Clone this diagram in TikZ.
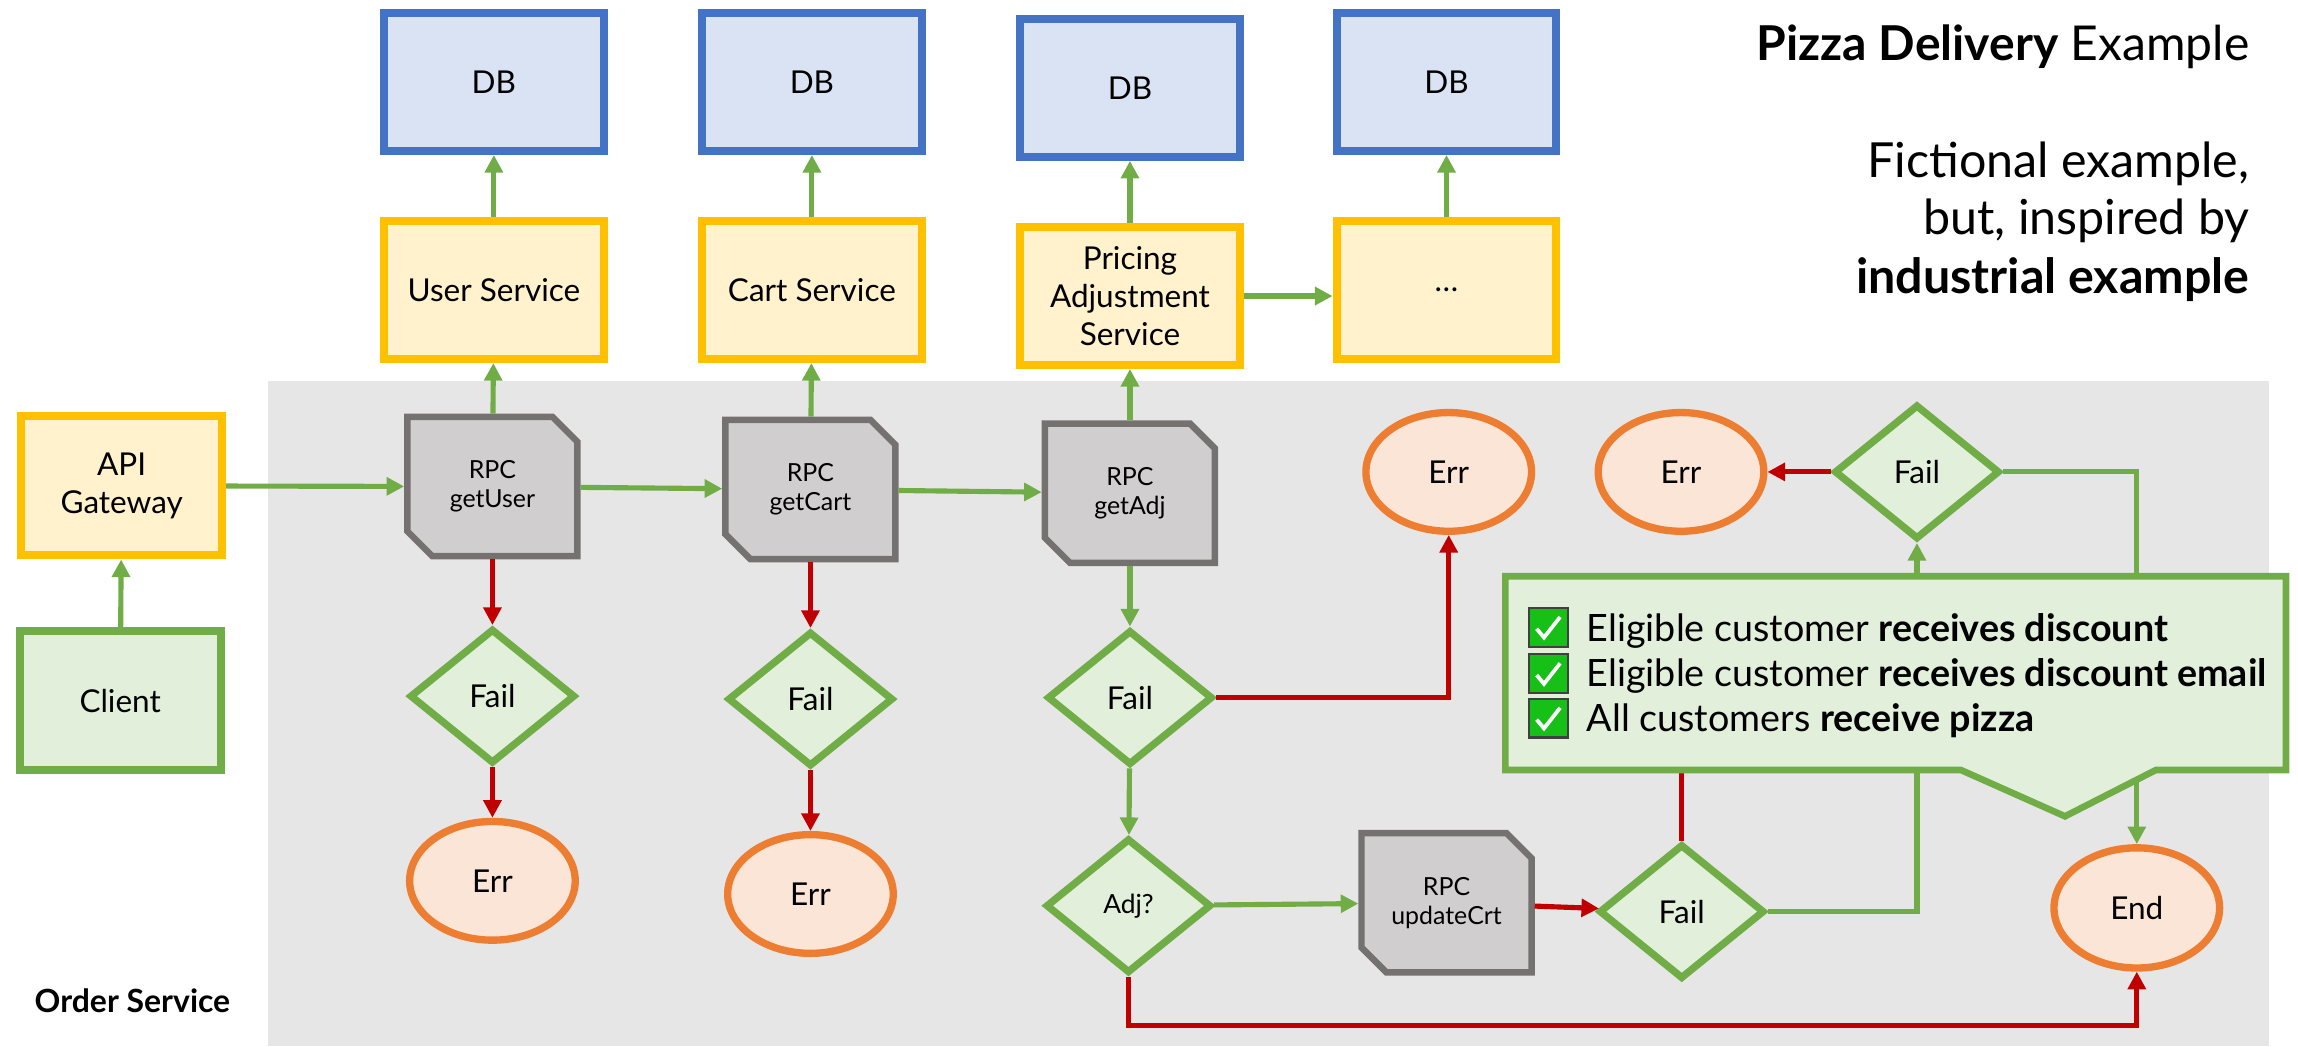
\documentclass[tikz,border=0pt]{standalone}
\usepackage{fontspec}
\setmainfont{Lato}
\usetikzlibrary{arrows.meta,shapes.geometric,calc}
\definecolor{dbline}{HTML}{4472C4}
\definecolor{dbfill}{HTML}{DAE3F3}
\definecolor{svcline}{HTML}{FFC000}
\definecolor{svcfill}{HTML}{FFF2CC}
\definecolor{grnline}{HTML}{70AD47}
\definecolor{grnfill}{HTML}{E2EFDA}
\definecolor{orgline}{HTML}{ED7D31}
\definecolor{orgfill}{HTML}{FBE5D6}
\definecolor{rpcline}{HTML}{767171}
\definecolor{rpcfill}{HTML}{D0CECE}
\definecolor{errred}{HTML}{C00000}
\definecolor{bggray}{HTML}{E7E6E6}
\definecolor{chkgreen}{HTML}{16C016}
\newcommand\fsz[2]{\fontsize{#1}{#2}\selectfont}
\newcommand\rpcnode[3]{%
  \path[rpcshape] (#2) ++(-58,-47.5) -- ++(99,0) -- ++(17,17) -- ++(0,78) -- ++(-99,0) -- ++(-17,-17) -- cycle;
  \node[rpcbox] (#1) at (#2) {#3};}
\begin{document}
\begin{tikzpicture}[x=1pt,y=-1pt,
  box/.style={line width=5.5pt, minimum width=150pt, minimum height=94pt, inner sep=1pt, align=center, font=\fsz{21.5}{26}},
  dbbox/.style={box, draw=dbline, fill=dbfill},
  svcbox/.style={box, draw=svcline, fill=svcfill},
  gwbox/.style={box, draw=svcline, fill=svcfill, minimum width=137pt, minimum height=95pt},
  clbox/.style={box, draw=grnline, fill=grnfill, minimum width=137pt, minimum height=95pt},
  rpcbox/.style={minimum width=116pt, minimum height=95pt, inner sep=1pt, outer sep=2.2pt, align=center, font=\fsz{17}{20}},
  rpcshape/.style={draw=rpcline, fill=rpcfill, line width=4.4pt},
  decision/.style={diamond, draw=grnline, fill=grnfill, line width=5pt, inner sep=0pt, minimum width=113pt, minimum height=92pt, font=\fsz{21.5}{24}},
  terminal/.style={ellipse, draw=orgline, fill=orgfill, line width=5pt, inner sep=0pt, minimum width=113pt, minimum height=81pt, font=\fsz{21.5}{24}},
  ok/.style={draw=grnline, line width=3.5pt, -{Triangle[length=12pt,width=12pt]}},
  bad/.style={draw=errred, line width=3.5pt, -{Triangle[length=12pt,width=12pt]}},
  badline/.style={draw=errred, line width=3.5pt},
  chk/.style={draw=black!75, fill=chkgreen, line width=1.5pt, minimum size=26.5pt, inner sep=0pt},
  calloutshape/.style={draw=grnline, fill=grnfill, line width=4.5pt},
  ctext/.style={anchor=base west, inner sep=0pt, font=\fsz{25.7}{30}},
  ]
\useasboundingbox (0,0) rectangle (1568,714);
% order service area
\fill[bggray] (183,260) rectangle (1548,714);
\node[anchor=base west, inner sep=0pt, font=\fsz{21.8}{24}\bfseries] (order) at (23.5,691) {Order Service};

% title
\node[anchor=base east, inner sep=0pt, font=\fsz{32.8}{36}] (title) at (1535,41) {\textbf{Pizza Delivery} Example};
\node[anchor=base east, inner sep=0pt, font=\fsz{33}{40}] (note1) at (1535,121) {Fictional example,};
\node[anchor=base east, inner sep=0pt, font=\fsz{33}{40}] (note2) at (1535,160) {but, inspired by};
\node[anchor=base east, inner sep=0pt, font=\fsz{33}{40}] (note3) at (1535,200) {\textbf{industrial example}};

% databases and services
\node[dbbox] (db1) at (337,56) {DB};
\node[dbbox] (db2) at (554,56) {DB};
\node[dbbox] (db3) at (771,60) {DB};
\node[dbbox] (db4) at (987,56) {DB};
\node[svcbox] (usersvc) at (337,198) {User Service};
\node[svcbox] (cartsvc) at (554,198) {Cart Service};
\node[svcbox] (pricesvc) at (771,202) {Pricing\\Adjustment\\Service};
\node[svcbox] (more) at (987,198) {\ldots};

\node[gwbox] (api) at (83,331.5) {API\\Gateway};
\node[clbox] (client) at (82,478) {Client};

% RPC calls
\rpcnode{getuser}{336,332}{RPC\\getUser}
\rpcnode{getcart}{553,334}{RPC\\getCart}
\rpcnode{getadj}{771,336.5}{RPC\\getAdj}
\rpcnode{upd}{987,616}{RPC\\updateCrt}

% decisions
\node[decision] (fail1) at (336,475) {Fail};
\node[decision] (fail2) at (553,477) {Fail};
\node[decision] (fail3) at (771,476) {Fail};
\node[decision, font=\fsz{18}{20}] (adj) at (770,618) {Adj?};
\node[decision] (fail4) at (1147.5,622) {Fail};
\node[decision] (fail5) at (1308,322) {Fail};

% terminals
\node[terminal] (err1) at (336,601) {Err};
\node[terminal] (err2) at (553,610) {Err};
\node[terminal] (err3) at (988.5,322) {Err};
\node[terminal] (err4) at (1147,322) {Err};
\node[terminal, minimum height=82pt] (end) at (1458,619.5) {End};

% connectors
\draw[ok] (client) -- (api);
\draw[ok] (api) -- (getuser);
\draw[ok] (getuser) -- (getcart);
\draw[ok] (getcart) -- (getadj);
\draw[ok] (getuser) -- (usersvc);
\draw[ok] (getcart) -- (cartsvc);
\draw[ok] (getadj) -- (pricesvc);
\draw[ok] (usersvc) -- (db1);
\draw[ok] (cartsvc) -- (db2);
\draw[ok] (pricesvc) -- (db3);
\draw[ok] (more) -- (db4);
\draw[ok] (pricesvc.east) -- (pricesvc.east -| more.west);
\draw[bad] (getuser) -- (fail1);
\draw[bad] (fail1) -- (err1);
\draw[bad] (getcart) -- (fail2);
\draw[bad] (fail2) -- (err2);
\draw[ok] (getadj) -- (fail3);
\draw[bad] (fail3.east) -| (err3.south);
\draw[ok] (fail3) -- (adj);
\draw[ok] (adj) -- (upd);
\draw[bad] (upd) -- (fail4);
\draw[ok] (fail4.east) -| (fail5.south);
\draw[ok] (fail5.east) -| (end.north);
\draw[bad] (fail5) -- (err4);
\coordinate (lowturn) at (770,700);
\draw[bad] (adj.south) -- (lowturn) -| (end.south);
\coordinate (hidden) at (1147.5,470);
\draw[badline] (fail4.north) -- (hidden);

% callout
\path[calloutshape] (1027.2,393.2) -- (1559.8,393.2) -- (1559.8,525.4) -- (1471,525.4) -- (1409,557) -- (1338,525.4) -- (1027.2,525.4) -- cycle;
\node[chk] (k1) at (1056.5,428) {};
\node[chk] (k2) at (1056.5,459.6) {};
\node[chk] (k3) at (1056.5,490) {};
\foreach \k in {k1,k2,k3}
  \draw[white, line width=2.6pt] ([shift={(-8,1)}]\k.center) -- ([shift={(-3,7)}]\k.center) -- ([shift={(8,-7)}]\k.center);
\node[ctext] (c1) at (1082.5,437.8) {Eligible customer \textbf{receives discount}};
\node[ctext] (c2) at (1082.5,468.5) {Eligible customer \textbf{receives discount email}};
\node[ctext] (c3) at (1082.5,499) {All customers \textbf{receive pizza}};
\end{tikzpicture}
\end{document}
